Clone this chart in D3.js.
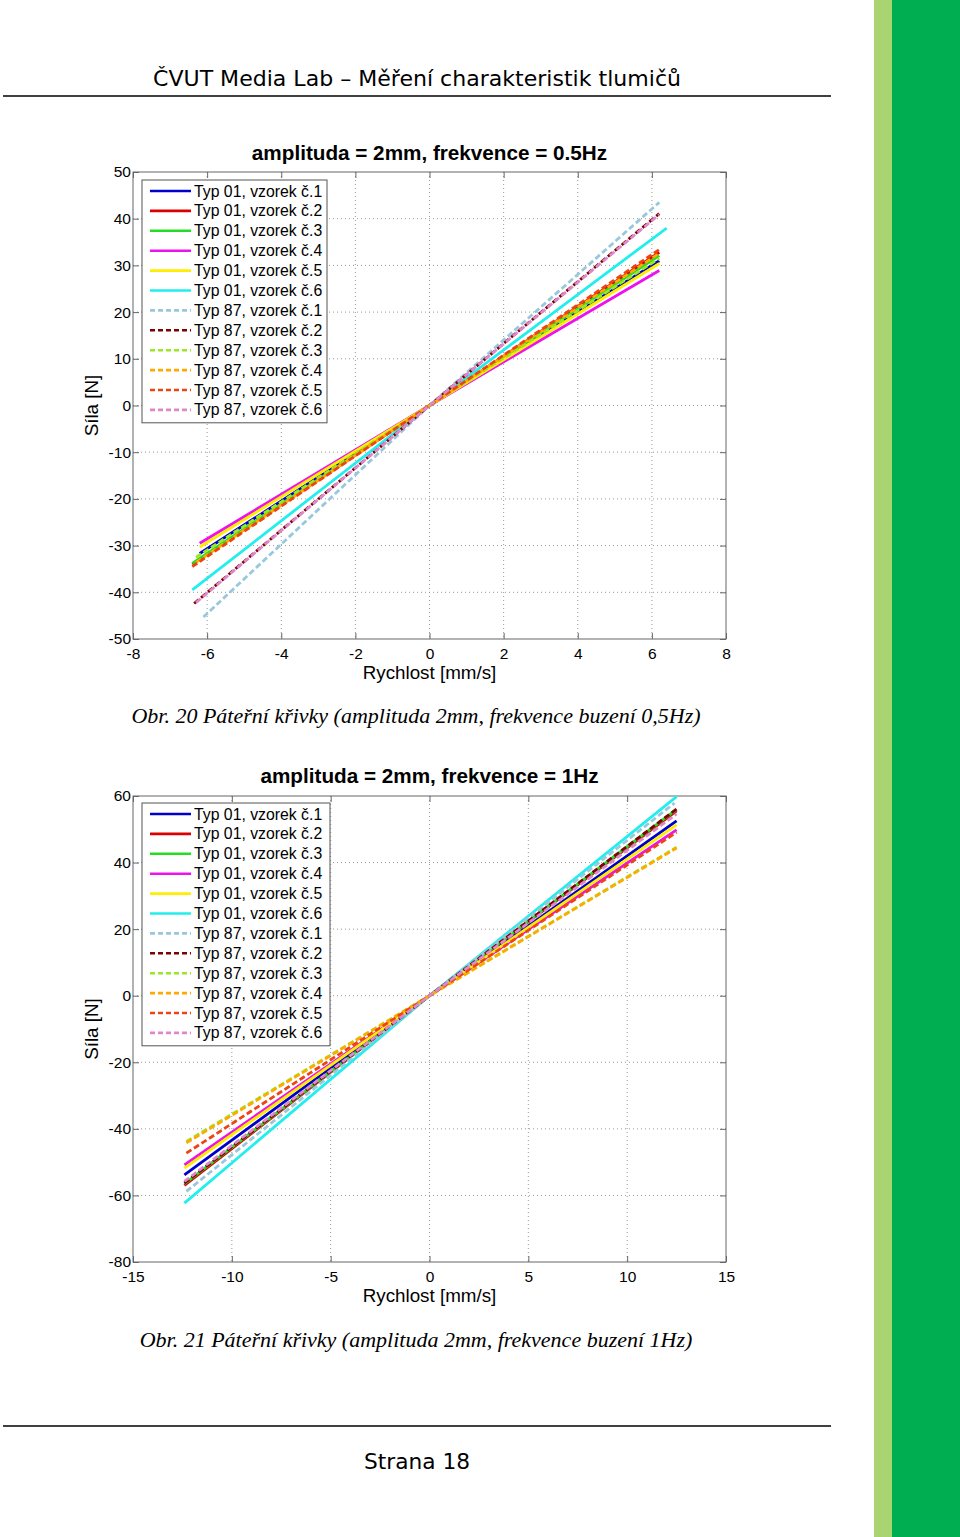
<!DOCTYPE html>
<html><head><meta charset="utf-8">
<script src="https://cdn.jsdelivr.net/npm/d3@7"></script>
<style>body{margin:0;background:#fff}svg{display:block}</style>
</head><body>
<script>
// ---------- DATA ----------
const seriesNames = ["Typ 01, vzorek č.1","Typ 01, vzorek č.2","Typ 01, vzorek č.3","Typ 01, vzorek č.4","Typ 01, vzorek č.5","Typ 01, vzorek č.6",
  "Typ 87, vzorek č.1","Typ 87, vzorek č.2","Typ 87, vzorek č.3","Typ 87, vzorek č.4","Typ 87, vzorek č.5","Typ 87, vzorek č.6"];
const seriesColors = ["#0000cc","#dd0000","#22dd22","#ee11ee","#ffee00","#22eeee","#99c8dd","#800000","#99e822","#ffaa00","#ee4411","#dd88cc"];
const seriesDashed = [false,false,false,false,false,false,true,true,true,true,true,true];

// chart 1 (0.5 Hz): velocity [min,0,max], force [min,0,max]
const c1Vel = [[-6.2,0,6.2],[-6.4,0,6.2],[-6.4,0,6.2],[-6.2,0,6.2],[-6.2,0,6.2],[-6.4,0,6.4],
               [-6.1,0,6.2],[-6.35,0,6.2],[-6.3,0,6.2],[-6.3,0,6.2],[-6.4,0,6.2],[-6.3,0,6.2]];
const c1Force = [[-31.7,0,31.0],[-34.0,0,32.8],[-33.8,0,32.1],[-29.5,0,28.9],[-30.3,0,30.4],[-39.5,0,38.0],
                 [-45.3,0,43.5],[-42.4,0,41.1],[-32.5,0,31.5],[-33.6,0,32.6],[-34.5,0,33.4],[-42.2,0,40.9]];
// chart 2 (1 Hz)
const c2Vel = [[-12.4,0,12.5],[-12.4,0,12.5],[-12.4,0,12.5],[-12.4,0,12.5],[-12.4,0,12.5],[-12.4,0,12.5],
               [-12.3,0,12.4],[-12.4,0,12.5],[-12.3,0,12.5],[-12.3,0,12.5],[-12.3,0,12.5],[-12.4,0,12.5]];
const c2Force = [[-53.8,0,52.5],[-57.0,0,55.5],[-56.5,0,56.0],[-50.8,0,49.8],[-51.8,0,51.3],[-62.3,0,59.8],
                 [-58.8,0,57.9],[-56.3,0,56.1],[-43.8,0,44.6],[-44.2,0,44.4],[-47.3,0,49.1],[-55.8,0,54.6]];

const c1XTicks = [-8,-6,-4,-2,0,2,4,6,8];
const c1YTicks = [-50,-40,-30,-20,-10,0,10,20,30,40,50];
const c2XTicks = [-15,-10,-5,0,5,10,15];
const c2YTicks = [-80,-60,-40,-20,0,20,40,60];

const headerText = "ČVUT Media Lab – Měření charakteristik tlumičů";
const footerText = "Strana 18";
const c1Title = "amplituda = 2mm, frekvence = 0.5Hz";
const c2Title = "amplituda = 2mm, frekvence = 1Hz";
const c1Caption = "Obr. 20 Páteřní křivky (amplituda 2mm, frekvence buzení 0,5Hz)";
const c2Caption = "Obr. 21 Páteřní křivky (amplituda 2mm, frekvence buzení 1Hz)";
const xLabel = "Rychlost [mm/s]";
const yLabel = "Síla [N]";

// ---------- DRAW ----------
const W = 960, H = 1537;
const svg = d3.select("body").append("svg").attr("width", W).attr("height", H);

// right side bars
svg.append("rect").attr("x", 874).attr("y", 0).attr("width", 18).attr("height", H).attr("fill", "#a9d46f");
svg.append("rect").attr("x", 892).attr("y", 0).attr("width", 68).attr("height", H).attr("fill", "#00ae52");

// header
svg.append("text").attr("x", 417).attr("y", 86).attr("text-anchor", "middle")
  .attr("font-family", "DejaVu Sans").attr("font-size", 21)
  .attr("textLength", 528).attr("lengthAdjust", "spacingAndGlyphs").text(headerText);
svg.append("line").attr("x1", 3).attr("x2", 831).attr("y1", 96).attr("y2", 96).attr("stroke", "#000").attr("stroke-width", 1.5);

// footer
svg.append("line").attr("x1", 3).attr("x2", 831).attr("y1", 1426).attr("y2", 1426).attr("stroke", "#000").attr("stroke-width", 1.5);
svg.append("text").attr("x", 417).attr("y", 1469).attr("text-anchor", "middle")
  .attr("font-family", "DejaVu Sans").attr("font-size", 22)
  .attr("textLength", 106).attr("lengthAdjust", "spacingAndGlyphs").text(footerText);

const tickFmt = d => String(d);

function chart(opts) {
  const {left, right, top, bottom, xDom, yDom, xTicks, yTicks, vel, force, title, titleY, caption, captionY, legTop, legRight} = opts;
  const x = d3.scaleLinear().domain(xDom).range([left, right]);
  const y = d3.scaleLinear().domain(yDom).range([bottom, top]);
  const g = svg.append("g");
  const font = "Liberation Sans, Arial, sans-serif";

  // grid
  g.selectAll(".gx").data(xTicks.slice(1, -1)).join("line")
    .attr("x1", d => x(d)).attr("x2", d => x(d)).attr("y1", top).attr("y2", bottom)
    .attr("stroke", "#999").attr("stroke-width", 1).attr("stroke-dasharray", "1,3");
  g.selectAll(".gy").data(yTicks.slice(1, -1)).join("line")
    .attr("x1", left).attr("x2", right).attr("y1", d => y(d)).attr("y2", d => y(d))
    .attr("stroke", "#999").attr("stroke-width", 1).attr("stroke-dasharray", "1,3");

  // axes (ticks inside, MATLAB style)
  const tl = 6, axCol = "#666";
  g.append("g").attr("transform", `translate(0,${bottom})`)
    .call(d3.axisBottom(x).tickValues(xTicks).tickSize(-tl).tickPadding(9).tickFormat(tickFmt))
    .call(a => { a.select(".domain").remove(); a.selectAll("line").attr("stroke", axCol); a.selectAll("text").attr("font-family", font).attr("font-size", 15.5).attr("fill", "#000"); });
  g.append("g").attr("transform", `translate(0,${top})`)
    .call(d3.axisTop(x).tickValues(xTicks).tickSize(-tl).tickFormat(""))
    .call(a => { a.select(".domain").remove(); a.selectAll("line").attr("stroke", axCol); });
  g.append("g").attr("transform", `translate(${left},0)`)
    .call(d3.axisLeft(y).tickValues(yTicks).tickSize(-tl).tickPadding(2).tickFormat(tickFmt))
    .call(a => { a.select(".domain").remove(); a.selectAll("line").attr("stroke", axCol); a.selectAll("text").attr("font-family", font).attr("font-size", 15.5).attr("fill", "#000"); });
  g.append("g").attr("transform", `translate(${right},0)`)
    .call(d3.axisRight(y).tickValues(yTicks).tickSize(-tl).tickFormat(""))
    .call(a => { a.select(".domain").remove(); a.selectAll("line").attr("stroke", axCol); });
  g.append("rect").attr("x", left).attr("y", top).attr("width", right - left).attr("height", bottom - top)
    .attr("fill", "none").attr("stroke", axCol).attr("stroke-width", 1);

  // series
  const line = d3.line().x(d => x(d[0])).y(d => y(d[1]));
  seriesNames.forEach((n, i) => {
    const pts = vel[i].map((v, k) => [v, force[i][k]]);
    g.append("path").datum(pts).attr("d", line).attr("fill", "none")
      .attr("stroke", seriesColors[i]).attr("stroke-width", 2.8)
      .attr("stroke-dasharray", seriesDashed[i] ? "6,3" : null);
  });

  // legend
  const lx = left + 9, lw = legRight - lx, rowH = 19.9;
  const lg = g.append("g");
  lg.append("rect").attr("x", lx).attr("y", legTop).attr("width", lw).attr("height", rowH * 12 + 4)
    .attr("fill", "#fff").attr("stroke", "#555").attr("stroke-width", 1);
  seriesNames.forEach((n, i) => {
    const yy = legTop + 11 + i * rowH;
    lg.append("line").attr("x1", lx + 8).attr("x2", lx + 49).attr("y1", yy).attr("y2", yy)
      .attr("stroke", seriesColors[i]).attr("stroke-width", 2.6)
      .attr("stroke-dasharray", seriesDashed[i] ? "5,3" : null);
    lg.append("text").attr("x", lx + 52).attr("y", yy + 5.5).attr("font-family", font).attr("font-size", 15.8)
      .attr("fill", "#000").text(n);
  });

  // title & labels
  g.append("text").attr("x", (left + right) / 2).attr("y", titleY).attr("text-anchor", "middle")
    .attr("font-family", font).attr("font-weight", "bold").attr("font-size", 20.7).text(title);
  g.append("text").attr("x", (left + right) / 2).attr("y", bottom + 40).attr("text-anchor", "middle")
    .attr("font-family", font).attr("font-size", 18.8).text(xLabel);
  g.append("text").attr("transform", `translate(${98},${(top + bottom) / 2}) rotate(-90)`).attr("text-anchor", "middle")
    .attr("font-family", font).attr("font-size", 18.8).text(yLabel);
  g.append("text").attr("x", 416).attr("y", captionY).attr("text-anchor", "middle")
    .attr("font-family", "Liberation Serif, Times New Roman, serif").attr("font-style", "italic").attr("font-size", 22)
    .text(caption);
}

chart({left: 133, right: 726, top: 172, bottom: 639, xDom: [-8, 8], yDom: [-50, 50], xTicks: c1XTicks, yTicks: c1YTicks,
  vel: c1Vel, force: c1Force, title: c1Title, titleY: 160, caption: c1Caption, captionY: 723, legTop: 180, legRight: 327});
chart({left: 133, right: 726, top: 796, bottom: 1262, xDom: [-15, 15], yDom: [-80, 60], xTicks: c2XTicks, yTicks: c2YTicks,
  vel: c2Vel, force: c2Force, title: c2Title, titleY: 783, caption: c2Caption, captionY: 1347, legTop: 803, legRight: 330});
</script>
</body></html>
